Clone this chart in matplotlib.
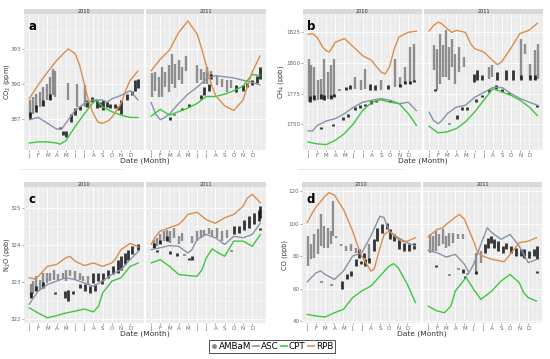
import matplotlib
matplotlib.use("Agg")
import matplotlib.pyplot as plt
from matplotlib.lines import Line2D
from matplotlib.ticker import MultipleLocator

MONTHS = ["J", "F", "M", "A", "M", "J", "J", "A", "S", "O", "N", "D"]
YEARS = ["2010", "2011"]

# ---------------------------------------------------------------------------
# Data: lines are (month, value); point clusters are
# (month, low, high)
# ---------------------------------------------------------------------------

# CO2 (ppm)
CO2_TICKS = [387, 390, 393]
CO2_2010_RPB = [(1, 388.7), (2, 389.9), (3, 391.0), (4, 392.0), (5, 392.8), (5.25, 393.0), (6, 392.6),
                (6.5, 391.6), (7, 390.0), (7.45, 388.6), (8, 387.4), (8.5, 386.7), (9, 386.6), (9.6, 386.8),
                (10, 387.1), (11, 388.3), (11.6, 389.6), (12, 390.3), (12.85, 391.1)]
CO2_2010_ASC = [(1, 386.9), (2, 387.1), (3, 386.6), (4, 386.1), (4.55, 386.1), (5, 386.6), (6, 387.7),
                (7, 388.3), (8, 388.6), (9, 388.6), (9.45, 388.4), (10, 388.7), (11, 389.0), (12, 389.4),
                (12.85, 388.6)]
CO2_2010_CPT = [(1, 384.9), (2, 385.0), (3, 385.0), (4, 384.9), (4.35, 384.8), (5, 385.1), (6, 386.3),
                (7, 387.4), (8, 388.4), (8.35, 388.6), (9, 388.0), (10, 387.6), (11, 387.3), (11.5, 387.2),
                (12, 387.1), (12.85, 387.1)]
CO2_2010_PTS = [(1.15, 387.1, 388.6), (1.45, 387.4, 388.9), (1.8, 387.7, 389.1), (2.15, 388.0, 389.3),
                (2.55, 388.1, 389.7), (2.9, 388.6, 390.0), (3.25, 388.6, 390.6), (3.55, 389.0, 391.3),
                (3.8, 388.9, 391.1), (5.25, 388.6, 390.1), (6.25, 388.0, 390.0), (7.05, 388.0, 389.9)]
CO2_2010_DARK = [(1.15, 387.0, 387.6), (1.8, 387.6, 388.2), (2.55, 388.1, 388.6), (3.25, 388.6, 389.1),
                 (4.35, 386.1, 386.3), (4.7, 385.6, 385.9), (5.05, 385.4, 385.9), (5.6, 386.7, 387.4),
                 (6.0, 387.3, 387.9), (6.55, 387.7, 388.1), (7.35, 388.0, 388.6), (7.8, 388.4, 388.9),
                 (8.35, 387.9, 388.6), (8.7, 388.0, 388.4), (9.05, 387.7, 388.6), (9.45, 388.0, 388.4),
                 (9.8, 387.9, 388.3), (10.35, 387.9, 388.3), (10.7, 387.7, 388.1), (11.05, 387.4, 388.6),
                 (11.6, 388.6, 389.1), (12.15, 389.0, 389.4), (12.55, 389.4, 390.3), (12.8, 389.6, 390.4)]
CO2_2011_RPB = [(1, 391.1), (2, 392.1), (3, 392.9), (4, 394.4), (5, 395.4), (6, 394.3), (6.4, 393.3),
                (7, 391.6), (7.5, 390.1), (8, 389.0), (9, 388.1), (10, 387.7), (11, 388.6), (12, 391.0),
                (12.85, 392.4)]
CO2_2011_ASC = [(1, 388.4), (1.5, 387.4), (2, 386.9), (2.5, 387.1), (3, 387.4), (4, 388.3), (5, 389.1),
                (6, 389.7), (7, 390.4), (8, 390.7), (9, 390.6), (10, 390.5), (11, 390.3), (12, 390.1),
                (12.85, 389.9)]
CO2_2011_CPT = [(1, 387.2), (2, 387.8), (3, 387.3), (4, 387.6), (5, 387.9), (6, 388.3), (7, 388.9),
                (8, 388.9), (9, 389.1), (10, 389.4), (11, 389.8), (12, 390.8), (12.85, 390.7)]
CO2_2011_PTS = [(1.1, 388.9, 390.9), (1.45, 389.4, 391.0), (1.85, 388.9, 390.6), (2.2, 388.9, 391.4),
                (2.55, 389.7, 391.0), (2.95, 389.3, 391.6), (3.3, 390.0, 392.6), (3.65, 389.6, 391.7),
                (4.0, 390.3, 392.0), (4.4, 390.0, 391.4), (4.75, 391.1, 392.4), (6.0, 390.1, 391.6),
                (6.4, 390.3, 391.3), (6.75, 390.0, 391.0), (7.1, 390.0, 391.4), (7.55, 390.4, 391.1),
                (8.2, 389.9, 390.7), (8.75, 389.7, 390.4), (9.3, 389.3, 390.3), (9.65, 389.6, 390.3)]
CO2_2011_DARK = [(3.1, 386.9, 387.1), (3.45, 387.3, 387.4), (4.4, 387.7, 387.9), (5.1, 388.0, 388.3),
                 (6.4, 388.7, 389.0), (6.8, 389.0, 389.7), (7.3, 389.4, 390.0), (7.55, 390.4, 390.8),
                 (10.2, 389.3, 389.9), (10.95, 389.4, 389.9), (11.45, 389.7, 390.1), (12.0, 389.9, 390.3),
                 (12.55, 390.1, 390.7), (12.9, 390.4, 391.4)]

# CH4 (ppb)
CH4_TICKS = [1750, 1775, 1800, 1825]
CH4_2010_RPB = [(1, 1823.4), (1.5, 1824.0), (2, 1821.0), (2.6, 1813.0), (3, 1810.0), (3.35, 1809.0),
                (4, 1817.0), (5, 1820.0), (6, 1813.0), (7, 1806.0), (8, 1802.0), (8.5, 1797.0), (9, 1792.7),
                (9.45, 1791.0), (9.95, 1797.0), (10.4, 1810.0), (10.95, 1821.0), (11.95, 1825.0), (12.9, 1826.0)]
CH4_2010_ASC = [(1, 1744.6), (1.5, 1744.6), (2, 1749.0), (3, 1752.7), (4, 1754.6), (5, 1758.7), (6, 1764.0),
                (7, 1768.0), (8, 1769.6), (9, 1771.0), (10, 1769.6), (11, 1766.8), (12, 1768.0), (12.9, 1761.0)]
CH4_2010_CPT = [(1, 1735.6), (2, 1734.0), (3, 1733.4), (4, 1737.0), (5, 1742.4), (6, 1750.5), (7, 1761.4),
                (8, 1768.0), (9, 1770.0), (10, 1768.0), (11, 1766.8), (12, 1758.7), (12.9, 1749.0)]
CH4_2010_PTS = [(1.1, 1768.2, 1803.5), (1.35, 1769.6, 1798.1), (1.65, 1770.9, 1796.7), (2.05, 1769.6, 1785.9),
                (2.4, 1770.9, 1787.2), (2.8, 1769.6, 1803.5), (3.15, 1770.9, 1792.7), (3.5, 1770.9, 1798.1),
                (3.8, 1772.3, 1803.5), (6.1, 1779.1, 1788.6), (6.85, 1777.7, 1785.9), (7.2, 1779.1, 1795.4),
                (9.05, 1777.7, 1785.9), (10.55, 1780.4, 1803.5), (11.1, 1780.4, 1788.6),
                (11.65, 1783.2, 1796.7), (12.2, 1783.2, 1813.0), (12.6, 1784.5, 1815.8)]
CH4_2010_DARK = [(1.2, 1768.0, 1773.0), (1.7, 1770.0, 1774.0), (2.4, 1771.0, 1775.0), (2.8, 1770.0, 1774.0),
                 (3.5, 1771.0, 1774.0), (3.8, 1772.0, 1775.0), (2.4, 1746.0, 1747.5), (3.7, 1748.5, 1750.0),
                 (4.45, 1777.7, 1779.1), (4.8, 1753.3, 1756.0), (5.2, 1777.7, 1780.4), (5.35, 1756.0, 1758.7),
                 (5.55, 1779.1, 1781.8), (6.1, 1761.4, 1764.1), (6.65, 1763.6, 1765.5), (7.2, 1764.7, 1766.8),
                 (7.8, 1777.7, 1783.2), (7.95, 1766.8, 1769.6), (8.35, 1777.7, 1781.8), (8.5, 1768.2, 1770.1),
                 (9.25, 1769.6, 1770.9), (9.8, 1779.1, 1781.8), (10.0, 1768.2, 1769.6), (11.1, 1780.4, 1783.0),
                 (11.65, 1783.2, 1785.0), (12.2, 1783.2, 1785.5), (12.6, 1784.5, 1786.0)]
CH4_2011_RPB = [(1, 1826.0), (1.5, 1830.7), (2, 1833.4), (2.4, 1832.0), (3, 1828.0), (3.5, 1825.0),
                (4, 1826.6), (5, 1825.0), (5.55, 1815.8), (6, 1811.7), (7, 1809.0), (8, 1802.0), (8.5, 1798.6),
                (8.95, 1800.8), (9.95, 1811.7), (10.95, 1824.0), (11.95, 1826.6), (12.9, 1832.5)]
CH4_2011_ASC = [(1, 1760.0), (1.5, 1753.0), (2, 1750.5), (2.4, 1753.0), (3, 1758.7), (4, 1764.0), (5, 1765.5),
                (6, 1772.0), (7, 1776.0), (8, 1780.0), (9, 1780.0), (10, 1775.0), (11, 1771.0), (12, 1768.0),
                (12.9, 1765.5)]
CH4_2011_CPT = [(1, 1748.4), (2, 1743.0), (3, 1743.8), (4, 1746.5), (5, 1752.0), (6, 1760.0), (7, 1769.6),
                (8, 1779.0), (9, 1776.4), (10, 1773.6), (11, 1769.6), (12, 1764.0), (12.9, 1757.0)]
CH4_2011_PTS = [(1.6, 1794.0, 1814.4), (1.85, 1777.7, 1811.7), (2.2, 1783.2, 1823.9), (2.5, 1788.6, 1814.4),
                (2.85, 1788.6, 1826.6), (3.15, 1785.9, 1813.0), (3.5, 1796.7, 1819.8), (3.9, 1783.2, 1807.6),
                (4.25, 1792.7, 1813.0), (4.8, 1796.7, 1804.9), (7.6, 1787.2, 1796.7), (7.95, 1788.6, 1798.1),
                (11.1, 1787.2, 1819.8), (11.5, 1807.6, 1815.8), (12.05, 1787.2, 1799.5),
                (12.6, 1785.9, 1810.3), (12.9, 1787.2, 1815.8)]
CH4_2011_DARK = [(1.65, 1777.0, 1779.0), (3.15, 1750.0, 1751.0), (4.05, 1754.6, 1757.3), (4.6, 1761.4, 1764.1),
                 (5.2, 1762.0, 1764.1), (5.95, 1784.5, 1791.3), (6.1, 1768.2, 1770.9), (6.3, 1785.9, 1794.0),
                 (6.85, 1772.3, 1773.6), (6.85, 1785.9, 1789.9), (7.6, 1776.4, 1779.1), (8.35, 1779.1, 1781.8),
                 (8.5, 1785.9, 1792.7), (9.05, 1776.4, 1779.1), (9.45, 1785.9, 1794.0), (9.8, 1775.0, 1776.4),
                 (10.2, 1785.9, 1794.0), (11.1, 1786.0, 1790.0), (12.05, 1786.0, 1790.0),
                 (12.6, 1786.0, 1790.0), (12.8, 1764.1, 1765.5)]

# N2O (ppb)
N2O_TICKS = [322, 323, 324, 325]
N2O_2010_RPB = [(1, 323.12), (1.6, 323.09), (2, 323.16), (3, 323.43), (4, 323.48), (5, 323.66), (5.45, 323.70),
                (6, 323.57), (7, 323.45), (8, 323.52), (9, 323.43), (10, 323.52), (10.35, 323.61), (11, 323.88),
                (12, 324.05), (12.9, 323.95)]
N2O_2010_ASC = [(1, 322.40), (1.6, 322.62), (2, 322.76), (3, 322.94), (4, 323.03), (5, 323.12), (6, 323.07),
                (7, 322.98), (8, 322.89), (9, 323.03), (10, 323.21), (11, 323.34), (12, 323.61), (12.9, 323.84)]
N2O_2010_CPT = [(1, 322.31), (2, 322.17), (3, 322.04), (4, 322.10), (5, 322.17), (6, 322.22), (7, 322.28),
                (8, 322.20), (8.55, 322.35), (9, 322.71), (10, 323.03), (11, 323.12), (12, 323.43), (12.9, 323.52)]
N2O_2010_PTS = [(1.2, 322.58, 322.94), (1.45, 322.67, 323.03), (1.8, 322.76, 323.16), (2.15, 322.80, 323.07),
                (2.55, 322.85, 323.25), (2.9, 322.98, 323.25), (3.25, 323.03, 323.25), (3.75, 323.07, 323.34),
                (4.15, 323.07, 323.21), (4.7, 323.12, 323.25), (5.05, 323.03, 323.34), (5.45, 323.16, 323.34),
                (6.0, 323.07, 323.30), (6.55, 323.07, 323.25), (6.9, 323.03, 323.16), (7.45, 322.94, 323.16)]
N2O_2010_DARK = [(1.2, 322.58, 322.75), (1.8, 322.76, 322.9), (2.55, 322.85, 323.0), (3.8, 322.69, 322.73),
                 (4.9, 322.58, 322.76), (5.25, 322.49, 322.80), (5.8, 322.67, 322.76), (6.55, 322.85, 322.94),
                 (7.05, 322.76, 322.94), (7.6, 322.71, 322.89), (8.0, 322.98, 323.25), (8.15, 322.76, 322.94),
                 (8.55, 323.03, 323.25), (8.9, 322.94, 323.07), (9.05, 323.07, 323.25), (9.6, 323.12, 323.34),
                 (10.15, 323.21, 323.43), (10.7, 323.25, 323.61), (11.05, 323.34, 323.70),
                 (11.45, 323.48, 323.79), (11.8, 323.61, 323.88), (12.15, 323.75, 323.97), (12.9, 323.88, 324.02)]
N2O_2011_RPB = [(1, 324.02), (1.5, 324.24), (2, 324.38), (3, 324.47), (4, 324.56), (4.55, 324.69), (5, 324.83),
                (6, 324.89), (7, 324.69), (8, 324.59), (9, 324.74), (10, 324.83), (11, 325.05), (11.5, 325.28),
                (12, 325.37), (12.9, 325.14)]
N2O_2011_ASC = [(1, 323.88), (2, 323.93), (3, 323.99), (4, 323.97), (5, 323.79), (5.45, 323.88), (6, 324.15),
                (7, 324.29), (8, 324.20), (9, 324.02), (10, 324.24), (11, 324.20), (12, 324.29), (12.9, 324.60)]
N2O_2011_CPT = [(1, 323.52), (2, 323.61), (3, 323.43), (4, 323.21), (5, 323.18), (6, 323.16), (6.55, 323.34),
                (7, 323.66), (7.65, 323.90), (8, 323.84), (9, 323.70), (10, 324.11), (11, 324.11), (12, 323.97),
                (12.9, 324.29)]
N2O_2011_PTS = [(1.3, 323.93, 324.15), (1.65, 323.97, 324.20), (2.0, 324.02, 324.29), (2.4, 324.11, 324.38),
                (2.75, 324.11, 324.42), (3.1, 324.06, 324.38), (3.45, 324.20, 324.47), (4.0, 324.02, 324.24),
                (4.4, 324.11, 324.33), (5.45, 324.06, 324.24), (6.0, 324.11, 324.38), (6.4, 324.20, 324.42),
                (6.8, 324.24, 324.42), (7.3, 324.29, 324.47), (7.65, 324.24, 324.42), (8.2, 324.20, 324.47),
                (8.75, 324.11, 324.38), (9.3, 324.20, 324.42)]
N2O_2011_DARK = [(1.3, 323.93, 324.05), (2.0, 324.02, 324.15), (2.75, 324.11, 324.25), (1.65, 323.82, 323.86),
                 (3.1, 323.75, 323.84), (3.85, 323.70, 323.79), (4.55, 323.73, 323.77), (5.1, 323.61, 323.66),
                 (5.45, 323.61, 323.70), (9.65, 323.84, 323.88), (10.0, 324.29, 324.51),
                 (10.55, 324.33, 324.51), (11.1, 324.42, 324.69), (11.65, 324.47, 324.78),
                 (12.2, 324.56, 324.87), (12.75, 324.65, 324.96), (12.9, 324.74, 325.05), (12.9, 324.42, 324.47)]

# CO (ppb)
CO_TICKS = [40, 60, 80, 100, 120]
CO_2010_RPB = [(1, 100.5), (1.6, 106.7), (2, 110.2), (3, 117.0), (3.4, 119.0), (4, 117.5), (5, 108.7),
               (6, 95.4), (6.5, 87.2), (7, 80.0), (8, 70.8), (8.35, 71.8), (9, 85.0), (9.45, 93.3), (10, 95.4),
               (11, 90.3), (11.45, 88.8), (12, 89.2), (12.9, 91.3)]
CO_2010_ASC = [(1, 64.0), (2, 69.7), (2.5, 70.8), (3, 68.7), (4, 65.6), (5, 70.8), (6, 80.0), (7, 82.0),
               (8, 92.3), (9, 104.6), (9.45, 103.6), (10, 95.4), (11, 91.3), (12, 88.2), (12.9, 86.2)]
CO_2010_CPT = [(1, 44.1), (2, 43.1), (3, 42.5), (4, 45.1), (5, 47.2), (6, 54.4), (7, 58.5), (8, 61.5),
               (9, 67.7), (10, 73.8), (10.5, 75.3), (11, 72.8), (12, 62.6), (12.9, 51.3)]
CO_2010_PTS = [(1.1, 73.8, 92.3), (1.4, 77.9, 87.2), (1.75, 79.0, 93.3), (2.15, 81.0, 96.4), (2.5, 86.2, 105.6),
               (2.85, 85.1, 98.5), (3.25, 85.1, 97.4), (3.6, 87.2, 95.4), (3.85, 92.3, 113.8), (4.15, 91.3, 92.3),
               (4.7, 86.2, 87.2), (5.3, 83.1, 86.2), (5.8, 83.1, 87.2), (6.35, 82.1, 85.1), (7.8, 76.9, 87.2)]
CO_2010_DARK = [(2.5, 63.8, 64.6), (3.6, 62.2, 63.0), (4.85, 59.5, 64.6), (5.4, 65.6, 68.7), (5.8, 67.7, 70.8),
                (6.35, 73.8, 77.9), (6.7, 79.0, 84.1), (6.9, 74.9, 76.9), (7.25, 79.0, 82.1), (7.4, 73.8, 77.9),
                (7.85, 75.9, 79.0), (8.35, 83.1, 90.3), (8.7, 89.2, 97.4), (9.25, 94.4, 99.5), (9.8, 96.4, 100.5),
                (10.15, 90.3, 96.4), (10.55, 89.2, 93.3), (11.05, 84.1, 90.3), (11.6, 83.1, 88.2),
                (12.15, 83.1, 87.2), (12.7, 84.1, 88.2)]
CO_2011_RPB = [(1, 91.7), (2, 96.4), (2.65, 97.4), (3, 99.5), (4, 104.0), (4.45, 105.6), (5, 102.6), (6, 89.2),
               (6.45, 82.0), (7, 80.0), (8, 78.0), (9, 76.9), (9.35, 76.5), (10, 81.0), (11, 88.2), (12, 89.2),
               (12.9, 91.3)]
CO_2011_ASC = [(1, 83.5), (2, 82.0), (3, 79.4), (4, 81.0), (5, 74.9), (5.5, 69.7), (6, 74.9), (7, 90.3),
               (7.5, 97.4), (8, 94.4), (9, 90.3), (10, 93.3), (11, 86.2), (12, 75.9), (12.9, 77.9)]
CO_2011_CPT = [(1, 49.2), (2, 46.2), (2.8, 45.1), (3.5, 49.2), (4, 58.5), (5, 65.6), (5.2, 66.7), (6, 59.5),
               (6.8, 53.3), (8, 58.5), (9, 64.6), (10, 68.7), (11, 63.6), (11.5, 57.4), (12, 54.4), (12.9, 52.3)]
CO_2011_PTS = [(1.2, 82.1, 93.3), (1.55, 83.1, 92.3), (1.9, 83.1, 95.4), (2.25, 86.2, 93.3), (2.65, 87.2, 96.4),
               (3.0, 85.1, 92.3), (3.35, 86.2, 94.4), (3.75, 88.2, 94.4), (4.25, 90.3, 93.3), (4.8, 90.3, 93.3),
               (6.25, 68.7, 82.1), (6.8, 75.9, 83.1)]
CO_2011_DARK = [(1.85, 73.4, 74.3), (3.35, 68.3, 69.1), (4.25, 71.8, 72.8), (4.8, 69.7, 71.8), (5.05, 66.5, 67.5),
                (5.3, 68.7, 69.7), (6.25, 68.7, 70.8), (7.2, 82.1, 87.2), (7.55, 85.1, 91.3), (7.9, 88.2, 92.3),
                (8.25, 85.1, 90.3), (8.65, 83.1, 89.2), (9.2, 82.1, 86.2), (9.55, 84.1, 88.2), (10.1, 82.1, 86.2),
                (10.65, 80.0, 85.1), (11.2, 80.0, 84.1), (11.55, 79.0, 84.1), (12.1, 79.0, 83.1),
                (12.65, 80.0, 84.1), (12.9, 77.9, 86.2), (12.9, 69.7, 70.8)]

# ---------------------------------------------------------------------------
# Style
# ---------------------------------------------------------------------------
W, H = 550, 359
RPB_COLOR = "#D98E4C"
ASC_COLOR = "#8494AA"
CPT_COLOR = "#3CC83C"
PT_COLOR = "#6E6E6E"
DARK_COLOR = "#111111"
BG = "#EBEBEB"
STRIP_BG = "#D9D9D9"
TXT = "#666666"


def px_axes(fig, x, y, w, h):
    """Axes placed in pixel coordinates measured from the top-left corner."""
    return fig.add_axes([x / W, 1 - (y + h) / H, w / W, h / H])


def draw_facet(ax, rpb, asc, cpt, pts, dark, ylim, yticks, show_y):
    ax.set_facecolor(BG)
    if pts:
        ax.vlines([p[0] for p in pts], [p[1] for p in pts], [p[2] for p in pts],
                  colors=PT_COLOR, linewidth=1.7, alpha=0.75, zorder=2)
    if dark:
        ax.vlines([p[0] for p in dark], [p[1] for p in dark], [p[2] for p in dark],
                  colors=DARK_COLOR, linewidth=2.0, alpha=0.85, zorder=2)
    for line, color in ((asc, ASC_COLOR), (cpt, CPT_COLOR), (rpb, RPB_COLOR)):
        ax.plot([p[0] for p in line], [p[1] for p in line], color=color, lw=1.0,
                solid_capstyle="round", zorder=3)
    ax.set_xlim(0.45, 13.5)
    ax.set_ylim(*ylim)
    ax.set_xticks(range(1, 13))
    ax.set_xticklabels(MONTHS)
    ax.xaxis.set_minor_locator(MultipleLocator(0.5))
    ax.set_yticks(yticks)
    ax.yaxis.set_minor_locator(MultipleLocator((yticks[1] - yticks[0]) / 2))
    ax.grid(which="major", color="white", lw=0.6)
    ax.grid(which="minor", color="white", lw=0.3)
    ax.set_axisbelow(True)
    for s in ax.spines.values():
        s.set_visible(False)
    ax.tick_params(which="major", length=1.2, width=0.4, color=TXT, labelsize=4.0,
                   labelcolor=TXT, pad=0.8)
    ax.tick_params(which="minor", length=0)
    if not show_y:
        ax.tick_params(axis="y", length=0, labelleft=False)


def draw_panel(fig, x0, top, w, h, letter, ylabel, ylab_x, ylim, yticks, facets):
    gap = 2
    for i, (year, (rpb, asc, cpt, pts, dark)) in enumerate(zip(YEARS, facets)):
        xl = x0 + i * (w + gap)
        ax = px_axes(fig, xl, top, w, h)
        draw_facet(ax, rpb, asc, cpt, pts, dark, ylim, yticks, show_y=(i == 0))
        strip = px_axes(fig, xl, top - 5.5, w, 5.5)
        strip.set_facecolor(STRIP_BG)
        strip.set_xticks([])
        strip.set_yticks([])
        for s in strip.spines.values():
            s.set_visible(False)
        strip.text(0.5, 0.45, year, ha="center", va="center", fontsize=3.6, color="#333333",
                   transform=strip.transAxes)
        if i == 0:
            ax.text(0.035, 0.955, letter, transform=ax.transAxes, ha="left", va="top",
                    fontsize=8.5, fontweight="bold", color="black")
    xc = x0 + w + gap / 2
    fig.text(xc / W, 1 - (top + h + 11.2) / H, "Date (Month)", ha="center", va="center",
             fontsize=5.4, color="#333333")
    fig.text(ylab_x / W, 1 - (top + h / 2) / H, ylabel, ha="center", va="center",
             rotation=90, fontsize=4.8, color="#333333")


fig = plt.figure(figsize=(W / 100, H / 100), dpi=100)
fig.patch.set_facecolor("white")

draw_panel(fig, 24, 14, 120, 136, "a", "CO$_2$ (ppm)", 7, (384.3, 396.0), CO2_TICKS,
           [(CO2_2010_RPB, CO2_2010_ASC, CO2_2010_CPT, CO2_2010_PTS, CO2_2010_DARK),
            (CO2_2011_RPB, CO2_2011_ASC, CO2_2011_CPT, CO2_2011_PTS, CO2_2011_DARK)])
draw_panel(fig, 303, 14, 119, 136, "b", "CH$_4$ (ppb)", 281.5, (1729.0, 1840.0), CH4_TICKS,
           [(CH4_2010_RPB, CH4_2010_ASC, CH4_2010_CPT, CH4_2010_PTS, CH4_2010_DARK),
            (CH4_2011_RPB, CH4_2011_ASC, CH4_2011_CPT, CH4_2011_PTS, CH4_2011_DARK)])
draw_panel(fig, 24, 187, 120, 136, "c", "N$_2$O (ppb)", 7, (321.9, 325.57), N2O_TICKS,
           [(N2O_2010_RPB, N2O_2010_ASC, N2O_2010_CPT, N2O_2010_PTS, N2O_2010_DARK),
            (N2O_2011_RPB, N2O_2011_ASC, N2O_2011_CPT, N2O_2011_PTS, N2O_2011_DARK)])
draw_panel(fig, 302, 187, 119, 136, "d", "CO (ppb)", 285, (38.8, 122.5), CO_TICKS,
           [(CO_2010_RPB, CO_2010_ASC, CO_2010_CPT, CO_2010_PTS, CO_2010_DARK),
            (CO_2011_RPB, CO_2011_ASC, CO_2011_CPT, CO_2011_PTS, CO_2011_DARK)])

# faint separator rules left over from the original figure composition
for x_a, x_b in ((20, 123), (298, 402)):
    fig.add_artist(Line2D([x_a / W, x_b / W], [1 - 169 / H, 1 - 169 / H], color="#E4E4E4", lw=0.6))

handles = [
    Line2D([], [], marker="o", linestyle="none", color="#8A8A8A", markersize=2.5),
    Line2D([], [], color=ASC_COLOR, lw=1.2),
    Line2D([], [], color=CPT_COLOR, lw=1.2),
    Line2D([], [], color=RPB_COLOR, lw=1.2),
]
leg = fig.legend(handles, ["AMBaM", "ASC", "CPT", "RPB"], loc="center",
                 bbox_to_anchor=(272 / W, 1 - 346.5 / H), ncol=4, fontsize=6.3, frameon=True,
                 fancybox=False, edgecolor="black", handlelength=0.7, handletextpad=0.2,
                 columnspacing=0.25, borderpad=0.25, borderaxespad=0)
leg.get_frame().set_linewidth(0.6)

fig.savefig("out.png", dpi=100)
